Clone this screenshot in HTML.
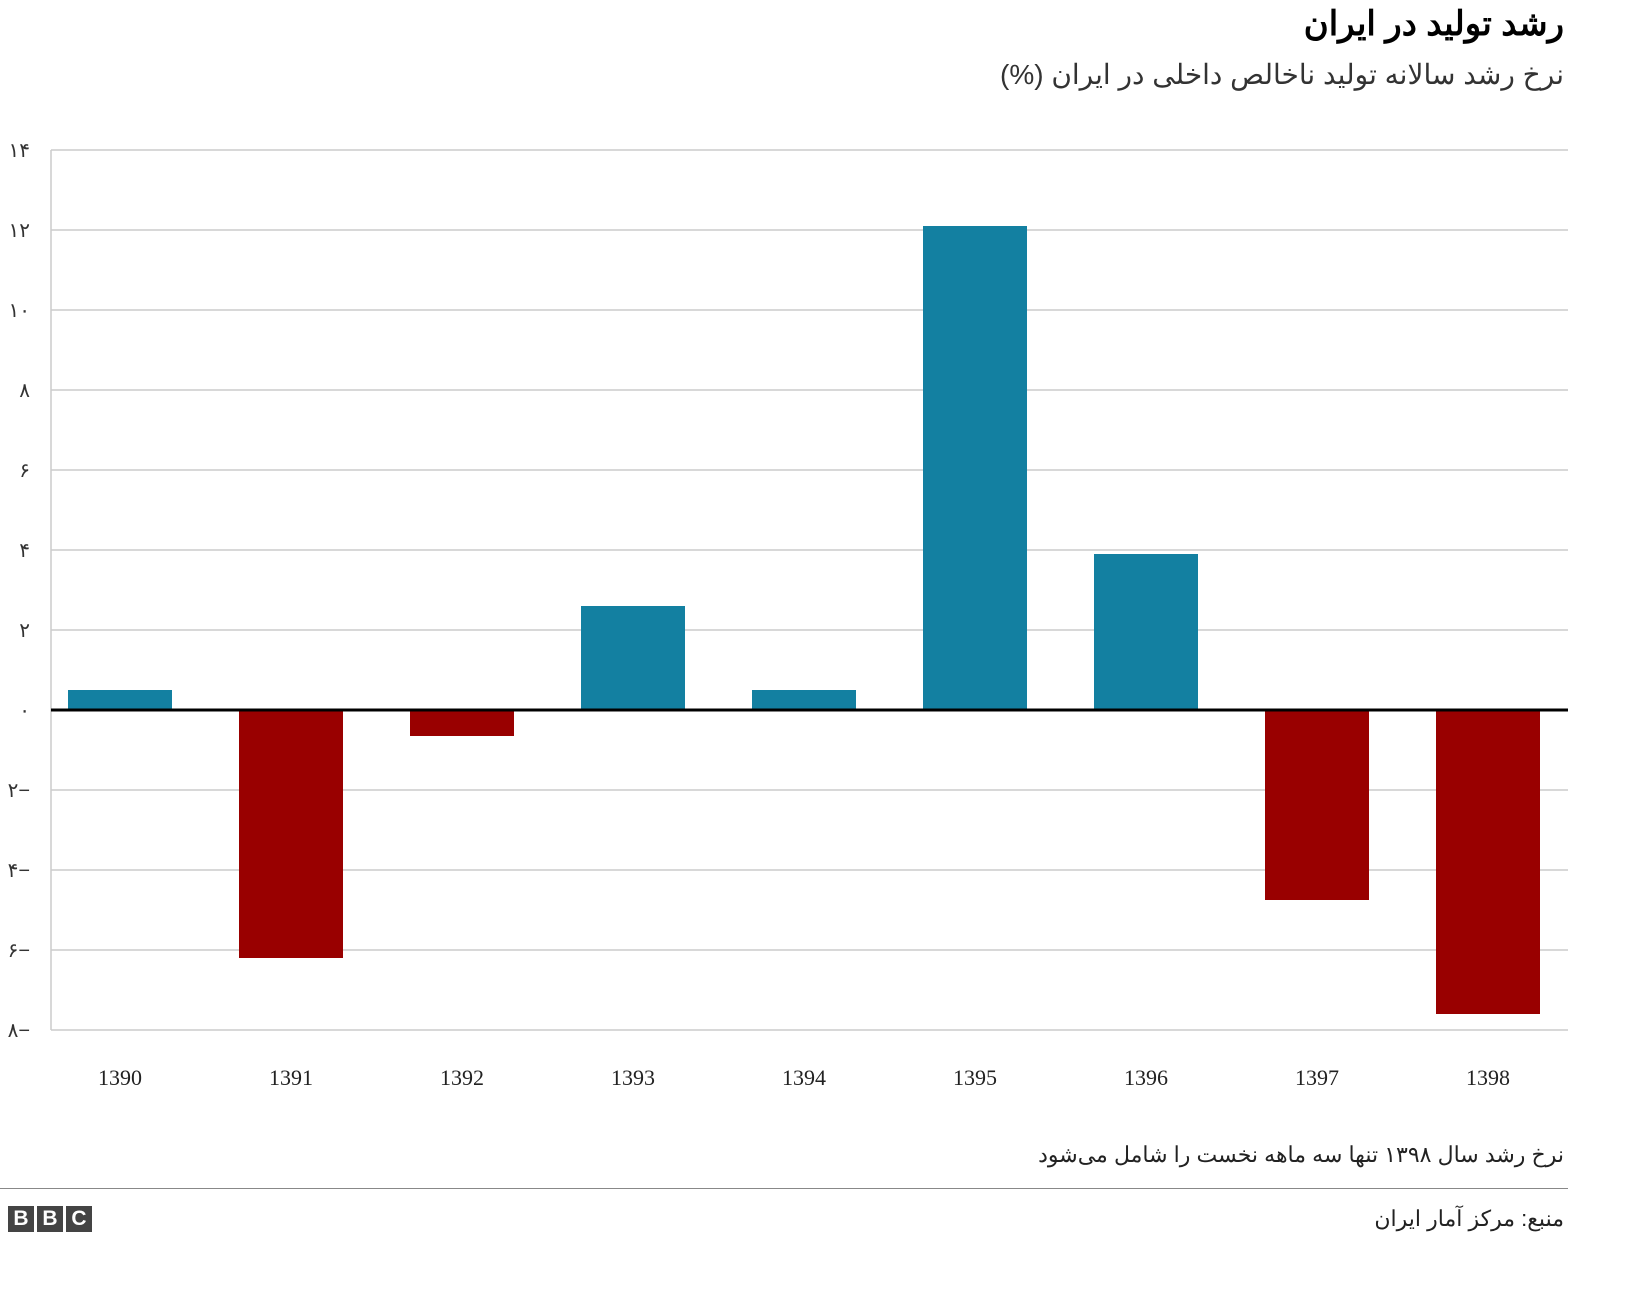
<!DOCTYPE html>
<html><head><meta charset="utf-8">
<style>
body{margin:0;width:1632px;height:1294px;background:#fff;overflow:hidden;font-family:"Liberation Sans","Noto Sans CJK SC",sans-serif;position:relative}
.t{position:absolute;right:68px;direction:rtl;white-space:nowrap}
</style></head><body>
<div class="t" style="top:4px;font-size:34px;font-weight:bold;color:#000">رشد تولید در ایران</div>
<div class="t" style="top:58px;font-size:28px;color:#333">نرخ رشد سالانه تولید ناخالص داخلی در ایران (%)</div>
<svg id="chart" width="1632" height="1120" style="position:absolute;left:0;top:0"></svg>
<div class="t" style="top:1142px;font-size:22px;color:#222">نرخ رشد سال ۱۳۹۸ تنها سه ماهه نخست را شامل می‌شود</div>
<div style="position:absolute;left:0;top:1188px;width:1568px;height:1px;background:#888"></div>
<div style="position:absolute;left:8px;top:1206px;display:flex;gap:3px">
<span style="width:26px;height:26px;background:#444;color:#fff;font:bold 21px 'Liberation Sans';text-align:center;line-height:26px">B</span>
<span style="width:26px;height:26px;background:#444;color:#fff;font:bold 21px 'Liberation Sans';text-align:center;line-height:26px">B</span>
<span style="width:26px;height:26px;background:#444;color:#fff;font:bold 21px 'Liberation Sans';text-align:center;line-height:26px">C</span>
</div>
<div class="t" style="top:1206px;font-size:22px;color:#222">منبع: مرکز آمار ایران</div>
<script>
const categories=["1390","1391","1392","1393","1394","1395","1396","1397","1398"];
const values=[0.5,-6.2,-0.65,2.6,0.5,12.1,3.9,-4.75,-7.6];
const yTicks=[14,12,10,8,6,4,2,0,-2,-4,-6,-8];
const fa=n=>String(Math.abs(n)).replace(/\d/g,d=>"۰۱۲۳۴۵۶۷۸۹"[d])+(n<0?"−":"");
const svg=document.getElementById('chart');const NS="http://www.w3.org/2000/svg";
const x0=51,x1=1568,yAt=v=>710-v*40;const step=(x1-x0-12)/categories.length;
const xc=i=>x0+17+52+i*171;
function mk(t,a){const e=document.createElementNS(NS,t);for(const k in a)e.setAttribute(k,a[k]);svg.appendChild(e);return e;}
yTicks.forEach(v=>{
const l=mk('line',{x1:x0,x2:x1,y1:yAt(v),y2:yAt(v),stroke:'#ccc','stroke-width':1.5});


const t=mk('text',{x:30,y:yAt(v)+7,'text-anchor':'end','font-size':20,fill:'#333','font-family':'Liberation Sans, Noto Sans CJK SC, sans-serif'});
t.textContent=fa(v);


});
const ax=mk('line',{x1:x0,x2:x0,y1:yAt(14),y2:yAt(-8),stroke:'#ccc','stroke-width':1.5});


categories.forEach((c,i)=>{
const v=values[i];
const r=mk('rect',{x:xc(i)-52,width:104,y:Math.min(yAt(v),yAt(0)),height:Math.abs(yAt(v)-yAt(0)),fill:v>=0?'#1380a1':'#990000'});


const t=mk('text',{x:xc(i),y:1085,'text-anchor':'middle','font-size':22,fill:'#222','font-family':'Liberation Serif, serif'});
t.textContent=c;


});
const z=mk('line',{x1:x0,x2:x1,y1:yAt(0),y2:yAt(0),stroke:'#000','stroke-width':3});


</script>
</body></html>
